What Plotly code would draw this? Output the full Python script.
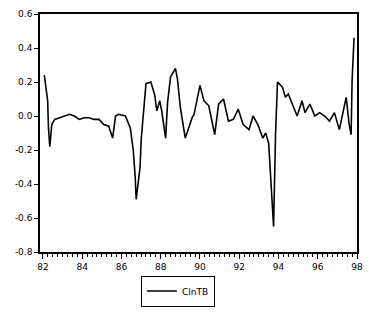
import plotly.graph_objects as go

# Decimal-year positions and values of the series
years = [1982.07, 1982.24, 1982.28, 1982.35, 1982.45, 1982.6, 1982.85, 1983.1, 1983.35, 1983.6,
         1983.85, 1984.1, 1984.35, 1984.6, 1984.85, 1985.1, 1985.35, 1985.55, 1985.7, 1985.85,
         1986.2, 1986.45, 1986.6, 1986.7, 1986.75, 1986.95, 1987.0, 1987.1, 1987.2, 1987.25,
         1987.5, 1987.7, 1987.8, 1987.95, 1988.05, 1988.25, 1988.35, 1988.5, 1988.75, 1988.85,
         1989.0, 1989.25, 1989.4, 1989.6, 1989.7, 1989.85, 1990.0, 1990.2, 1990.45, 1990.75,
         1990.95, 1991.2, 1991.45, 1991.7, 1991.95, 1992.2, 1992.5, 1992.7, 1992.95, 1993.2,
         1993.35, 1993.5, 1993.6, 1993.7, 1993.75, 1993.85, 1993.95, 1994.2, 1994.35, 1994.5,
         1994.7, 1994.95, 1995.2, 1995.35, 1995.6, 1995.85, 1996.1, 1996.35, 1996.6, 1996.85,
         1997.1, 1997.25, 1997.45, 1997.6, 1997.7, 1997.75, 1997.85]
clntb = [0.24, 0.09, -0.07, -0.18, -0.05, -0.02, -0.01, 0.0, 0.01, 0.0,
         -0.02, -0.01, -0.01, -0.02, -0.02, -0.05, -0.06, -0.13, 0.0, 0.01,
         0.0, -0.07, -0.2, -0.36, -0.49, -0.3, -0.15, -0.01, 0.10, 0.19,
         0.20, 0.12, 0.03, 0.09, 0.03, -0.13, 0.08, 0.23, 0.28, 0.22,
         0.05, -0.13, -0.08, -0.01, 0.01, 0.09, 0.18, 0.09, 0.06, -0.11,
         0.07, 0.10, -0.03, -0.02, 0.04, -0.05, -0.08, 0.0, -0.05, -0.13,
         -0.10, -0.16, -0.34, -0.53, -0.65, -0.11, 0.20, 0.17, 0.11, 0.13,
         0.07, 0.0, 0.09, 0.02, 0.07, 0.0, 0.02, 0.0, -0.03, 0.02,
         -0.08, 0.01, 0.11, -0.05, -0.11, 0.21, 0.46]

x_label_alias = {"1982": "82", "1984": "84", "1986": "86", "1988": "88", "1990": "90",
                 "1992": "92", "1994": "94", "1996": "96", "1998": "98"}
y_tickvals = [0.6, 0.4, 0.2, 0.0, -0.2, -0.4, -0.6, -0.8]
y_ticktext = ["0.6", "0.4", "0.2", "0.0", "-0.2", "-0.4", "-0.6", "-0.8"]

fig = go.Figure()
fig.add_trace(go.Scatter(x=years, y=clntb, mode="lines", name="ClnTB",
                         line=dict(color="black", width=1.6)))

fig.update_layout(
    width=369, height=313,
    margin=dict(l=40, r=6, t=14, b=55),
    paper_bgcolor="white", plot_bgcolor="white",
    font=dict(family="DejaVu Sans", size=9, color="black"),
    showlegend=True,
    legend=dict(orientation="h", x=0.435, y=-0.164, xanchor="center", yanchor="middle",
                bordercolor="black", borderwidth=1, bgcolor="white",
                font=dict(size=9), itemwidth=30, tracegroupgap=0),
)
fig.update_xaxes(range=[1981.85, 1998.0], tick0=1982, dtick=2, tickformat="d",
                 labelalias=x_label_alias,
                 ticks="outside", ticklen=5, tickcolor="black", showgrid=False, zeroline=False,
                 showline=True, linecolor="black", linewidth=1.5, mirror=True,
                 minor=dict(dtick=0.25, tick0=1982, ticks="outside", ticklen=3,
                            tickcolor="black", showgrid=False))
fig.update_yaxes(range=[-0.8, 0.6], tickvals=y_tickvals, ticktext=y_ticktext,
                 ticks="outside", ticklen=4, tickcolor="black", showgrid=False, zeroline=False,
                 showline=True, linecolor="black", linewidth=1.5, mirror=True)

fig.write_html("out.html", config={"displayModeBar": False},
               post_script="document.body.style.margin='0';document.body.style.overflow='hidden';")
